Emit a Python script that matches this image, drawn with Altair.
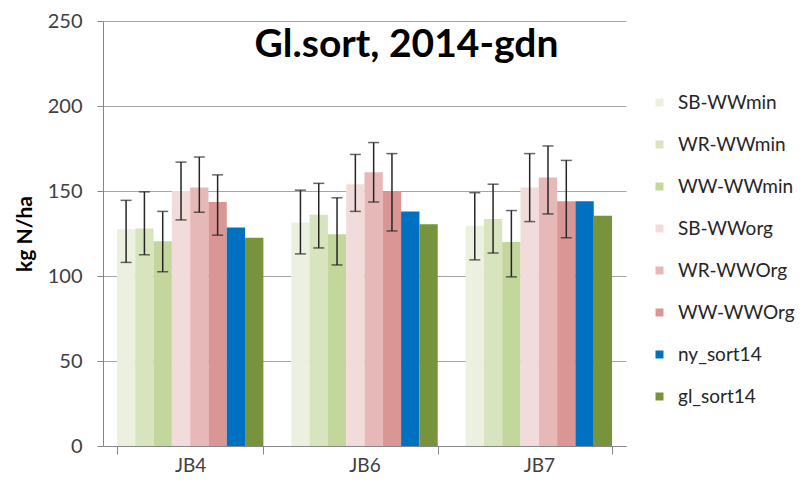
import altair as alt
import pandas as pd

groups = ["JB4", "JB6", "JB7"]
series = ["SB-WWmin", "WR-WWmin", "WW-WWmin", "SB-WWorg", "WR-WWOrg", "WW-WWOrg", "ny_sort14", "gl_sort14"]
colors = ["#EBF1DE", "#D7E4BD", "#C3D69B", "#F2DCDB", "#E6B9B8", "#D99694", "#0070C0", "#77933C"]

# values per series, in group order JB4, JB6, JB7
values = {
    "SB-WWmin": [127.5, 131.5, 129.5],
    "WR-WWmin": [128.0, 136.0, 133.5],
    "WW-WWmin": [120.5, 124.5, 120.0],
    "SB-WWorg": [150.0, 154.0, 152.0],
    "WR-WWOrg": [152.0, 161.0, 158.0],
    "WW-WWOrg": [143.5, 150.0, 144.0],
    "ny_sort14": [128.5, 138.0, 144.0],
    "gl_sort14": [122.5, 130.5, 135.5],
}
err_low = {
    "SB-WWmin": [108.0, 113.0, 109.5],
    "WR-WWmin": [112.5, 116.5, 113.5],
    "WW-WWmin": [102.5, 106.5, 99.5],
    "SB-WWorg": [133.0, 138.0, 132.0],
    "WR-WWOrg": [137.5, 143.5, 136.5],
    "WW-WWOrg": [124.0, 126.5, 122.5],
}
err_high = {
    "SB-WWmin": [144.5, 150.5, 149.0],
    "WR-WWmin": [149.5, 154.5, 154.0],
    "WW-WWmin": [138.0, 146.0, 138.5],
    "SB-WWorg": [167.0, 171.5, 172.0],
    "WR-WWOrg": [170.0, 178.5, 176.5],
    "WW-WWOrg": [159.5, 172.0, 168.0],
}
y_ticks = [0, 50, 100, 150, 200, 250]

rows = []
for s in series:
    for i, g in enumerate(groups):
        rows.append({
            "group": g,
            "series": s,
            "value": values[s][i],
            "lo": err_low[s][i] if s in err_low else None,
            "hi": err_high[s][i] if s in err_high else None,
        })
df = pd.DataFrame(rows)

FONT = "Lato"
xscale = alt.Scale(paddingInner=0.16, paddingOuter=0.08)
yscale = alt.Scale(domain=[0, 250], nice=False)
off = alt.XOffset("series:N", sort=series, scale=alt.Scale(paddingInner=0, paddingOuter=0))

bars = alt.Chart(df).mark_bar().encode(
    x=alt.X("group:N", sort=groups, scale=xscale, title=None,
            axis=alt.Axis(labelAngle=0, labelFontSize=19, labelColor="#404040",
                          labelPadding=2, tickBand="extent", tickSize=8,
                          tickColor="#868686", domainColor="#868686", grid=False)),
    xOffset=off,
    y=alt.Y("value:Q", scale=yscale,
            axis=alt.Axis(values=y_ticks, title="kg N/ha",
                          titleFontSize=21, titleFontWeight="bold", titleColor="#000000",
                          titlePadding=12, labelFontSize=20, labelColor="#404040",
                          labelPadding=15, tickSize=6, tickColor="#868686",
                          domainColor="#868686", gridColor="#A6A6A6", gridWidth=1.2)),
    color=alt.Color("series:N", sort=series,
                    scale=alt.Scale(domain=series, range=colors),
                    legend=alt.Legend(title=None, orient="none", legendX=547, legendY=72,
                                      symbolType="square", symbolSize=64, symbolStrokeWidth=0,
                                      labelFontSize=19, labelColor="#262626", labelOffset=9,
                                      rowPadding=22, padding=0, labelLimit=200)),
)

err = df.dropna(subset=["lo"])
rules = alt.Chart(err).mark_rule(color="#262626", strokeWidth=1.5).encode(
    x=alt.X("group:N", sort=groups, scale=xscale),
    xOffset=off,
    y=alt.Y("lo:Q", scale=yscale),
    y2="hi:Q",
)
cap_lo = alt.Chart(err).mark_tick(color="#262626", thickness=1.5, size=11).encode(
    x=alt.X("group:N", sort=groups, scale=xscale),
    xOffset=off,
    y=alt.Y("lo:Q", scale=yscale),
)
cap_hi = alt.Chart(err).mark_tick(color="#262626", thickness=1.5, size=11).encode(
    x=alt.X("group:N", sort=groups, scale=xscale),
    xOffset=off,
    y=alt.Y("hi:Q", scale=yscale),
)

chart = alt.layer(bars, rules, cap_lo, cap_hi).properties(
    width=523,
    height=425,
    autosize=alt.AutoSizeParams(type="none"),
    padding={"left": 95, "top": 13, "right": 177, "bottom": 32},
    title=alt.TitleParams("Gl.sort, 2014-gdn", fontSize=39, font=FONT, fontWeight="bold",
                          color="#000000", anchor="middle", dx=42, dy=73, offset=0,
                          baseline="middle"),
).configure(font=FONT).configure_view(stroke=None)

chart.save("out.html", embed_options={"renderer": "svg", "actions": False})
